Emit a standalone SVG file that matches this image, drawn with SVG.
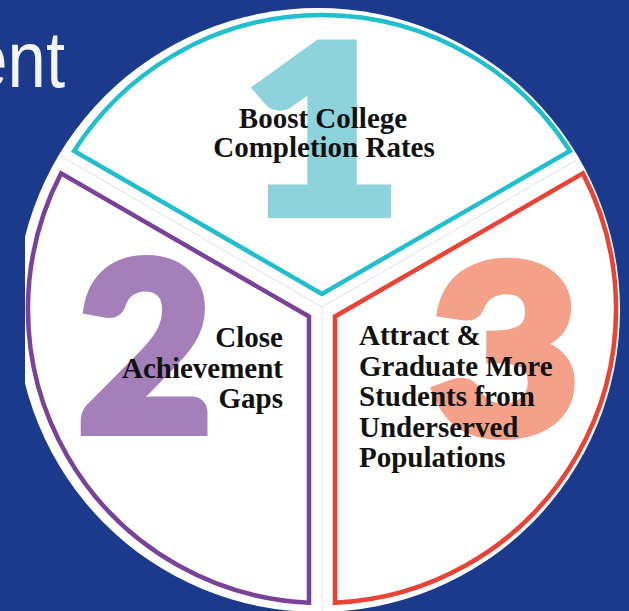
<svg xmlns="http://www.w3.org/2000/svg" width="629" height="611" viewBox="0 0 629 611">
  <defs>
    <clipPath id="discClip">
      <rect x="25" y="0" width="604" height="611"/>
    </clipPath>
    <style>
      .title { font-family: "Liberation Sans", Arial, sans-serif; font-size: 80px; fill: #f4f5f8; }
      .digit { font-family: Lato, Roboto, "DejaVu Sans", sans-serif; font-weight: 900; font-size: 232px; text-anchor: middle; stroke-width: 10; stroke-linejoin: miter; }
      .label { font-family: "Liberation Serif", "Times New Roman", serif; font-weight: bold; font-size: 29px; fill: #111111; }
      .seg { fill: none; stroke-width: 4.5; stroke-linejoin: miter; }
      .divider { stroke: #ececec; stroke-width: 1.5; fill: none; }
    </style>
  </defs>

  <!-- backdrop -->
  <rect x="0" y="0" width="629" height="611" fill="#1b3a8b"/>

  <!-- tail of the slide title -->
  <text class="title" transform="translate(65,87) scale(0.86,1)" text-anchor="end">ent</text>

  <!-- white disc -->
  <circle cx="318" cy="310" r="302" fill="#ffffff" clip-path="url(#discClip)"/>

  <!-- faint dividing lines between the three wedges -->
  <g id="connectors">
    <line class="divider" x1="322" y1="307" x2="322" y2="611"/>
    <line class="divider" x1="322" y1="307" x2="60" y2="155.5"/>
    <line class="divider" x1="322" y1="307" x2="578" y2="159"/>
  </g>

  <!-- wedge 1: top -->
  <g id="goal-1">
    <text class="digit" transform="translate(322,213) scale(1.18,1)" fill="#8ed3dc" stroke="#8ed3dc">1</text>
    <path class="seg" stroke="#21bfcd" d="M322,294 L74.1,150.9 A294,294 0 0 1 569.9,150.9 Z"/>
    <text class="label" x="323" y="128" text-anchor="middle">Boost College</text>
    <text class="label" x="324" y="157" text-anchor="middle">Completion Rates</text>
  </g>

  <!-- wedge 2: lower left -->
  <g id="goal-2">
    <text class="digit" transform="translate(145,431)" fill="#a57fb9" stroke="#a57fb9">2</text>
    <path class="seg" stroke="#7a4199" d="M309,316.5 L61.1,173.4 A294,294 0 0 0 309,602.7 Z"/>
    <text class="label" x="283" y="347" text-anchor="end">Close</text>
    <text class="label" x="283" y="378" text-anchor="end">Achievement</text>
    <text class="label" x="283" y="408" text-anchor="end">Gaps</text>
  </g>

  <!-- wedge 3: lower right -->
  <g id="goal-3">
    <text class="digit" transform="translate(505,433) scale(1.12,1)" fill="#f5a088" stroke="#f5a088">3</text>
    <path class="seg" stroke="#ea4335" d="M335,316.5 L582.9,173.4 A294,294 0 0 1 335,602.7 Z"/>
    <text class="label" x="359" y="345">Attract &amp;</text>
    <text class="label" x="359" y="375.5">Graduate More</text>
    <text class="label" x="359" y="406">Students from</text>
    <text class="label" x="359" y="436.5">Underserved</text>
    <text class="label" x="359" y="467">Populations</text>
  </g>
</svg>
